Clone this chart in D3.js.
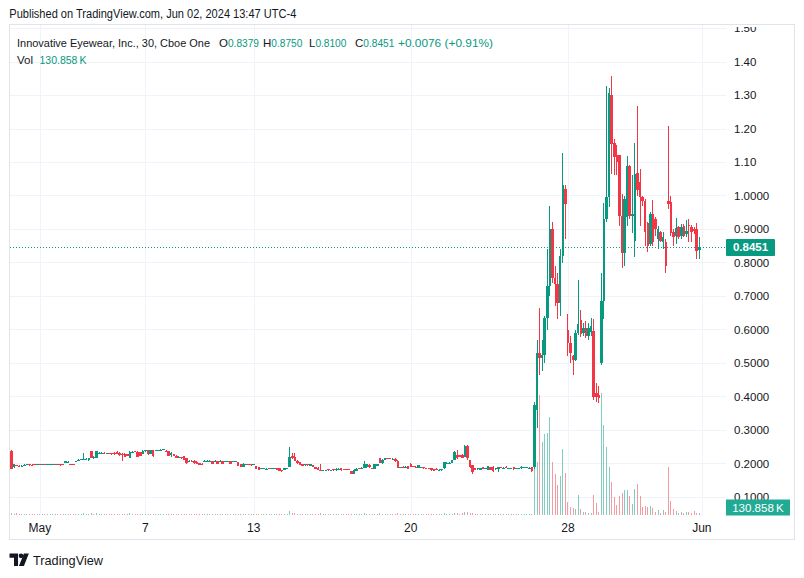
<!DOCTYPE html>
<html><head><meta charset="utf-8">
<script src="https://cdn.jsdelivr.net/npm/d3@7"></script>
<style>
body{margin:0;background:#fff}
svg{display:block}
text{font-family:"Liberation Sans",Arial,sans-serif}
</style></head>
<body><svg id="c" width="804" height="578"></svg>
<script>
// ---------- DATA (30-minute bars, LUCY, Cboe One) ----------
const opens = [
.237,.189,.196,.194,.192,.194,.197,.198,.197,.199,.198,.199,.198,.199,.197,.198,.198,.199,.198,.199,
.198,.202,.204,.199,.198,.205,.209,.211,.212,.211,.209,.237,.215,.216,.229,.231,.232,.229,.231,.230,
.232,.234,.232,.229,.229,.227,.216,.231,.236,.235,.233,.228,.236,.239,.229,.240,.237,.240,.240,.241,
.238,.236,.226,.227,.223,.216,.219,.221,.216,.206,.208,.208,.205,.201,.200,.206,.206,.205,.207,.207,
.207,.207,.207,.206,.207,.207,.206,.205,.204,.198,.191,.198,.199,.199,.198,.193,.190,.185,.184,.183,
.186,.185,.186,.187,.186,.181,.182,.184,.190,.222,.218,.208,.204,.198,.195,.199,.194,.196,.190,.188,
.182,.179,.180,.183,.180,.183,.180,.182,.186,.183,.183,.183,.178,.170,.179,.186,.186,.188,.189,.197,
.186,.184,.193,.215,.201,.210,.216,.216,.213,.214,.208,.188,.191,.189,.192,.200,.192,.191,.187,.188,
.189,.187,.186,.186,.183,.185,.180,.181,.186,.200,.201,.202,.210,.225,.224,.226,.220,.253,.210,.195,
.186,.183,.182,.189,.184,.181,.189,.191,.183,.184,.189,.184,.191,.184,.185,.190,.184,.185,.186,.188,
.187,.187,.189,
.190,.360,.530,.515,.525,.635,.730,.900,.755,.735,.680,.820,1.020,.600,.560,.520,.510,.590,.628,.590,
.605,.580,.593,.595,.410,.405,.500,.685,.930,.995,1.300,1.156,1.120,1.120,.940,.827,.935,1.088,.940,.865,
1.068,1.040,.996,.984,.917,.855,.945,.930,.870,.890,.860,.860,.985,.980,.890,.878,.905,.880,.910,.885,
.912,.905,.900,.900,.8379];
const highs = [
.240,.199,.197,.195,.195,.198,.199,.199,.198,.200,.200,.200,.199,.200,.199,.199,.199,.200,.200,.199,
.199,.208,.206,.200,.199,.208,.212,.214,.231,.215,.216,.238,.222,.238,.233,.233,.233,.232,.232,.232,
.233,.238,.234,.230,.230,.228,.236,.236,.237,.236,.235,.239,.240,.240,.241,.241,.241,.241,.242,.243,
.239,.237,.233,.228,.224,.221,.220,.222,.217,.209,.209,.209,.206,.202,.201,.209,.209,.209,.208,.209,
.208,.209,.208,.208,.208,.208,.207,.207,.205,.199,.201,.200,.200,.200,.199,.194,.191,.187,.187,.186,
.187,.187,.188,.188,.187,.182,.187,.188,.248,.232,.232,.209,.205,.199,.199,.200,.199,.197,.191,.189,
.199,.182,.182,.184,.182,.184,.186,.186,.187,.184,.184,.184,.179,.183,.186,.187,.189,.206,.200,.198,
.187,.200,.200,.216,.212,.216,.217,.217,.215,.215,.209,.190,.192,.192,.193,.201,.193,.192,.197,.190,
.190,.188,.187,.187,.184,.186,.183,.184,.205,.203,.203,.211,.237,.240,.226,.228,.255,.255,.211,.196,
.187,.187,.187,.190,.187,.194,.190,.192,.187,.191,.190,.189,.192,.187,.187,.191,.187,.187,.192,.191,
.190,.189,.190,
.385,.570,.665,.570,.640,.840,.970,.920,.790,.770,.840,1.128,1.030,.645,.580,.525,.600,.748,.658,.620,
.625,.620,.635,.630,.440,.430,.770,.977,1.327,1.320,1.357,1.170,1.150,1.120,1.005,1.000,1.118,1.090,1.061,1.158,
1.267,1.078,1.000,.990,.920,.950,.987,.935,.910,.895,.890,.870,1.207,1.000,.900,.932,.910,.915,.915,.927,
.930,.912,.905,.917,.875];
const lows = [
.183,.187,.192,.191,.191,.193,.196,.194,.194,.197,.197,.197,.197,.198,.196,.197,.197,.198,.197,.194,
.196,.201,.203,.196,.197,.204,.208,.210,.211,.210,.208,.215,.213,.215,.228,.230,.228,.228,.227,.226,
.226,.228,.223,.208,.219,.222,.215,.230,.233,.219,.221,.227,.235,.226,.228,.220,.236,.239,.239,.240,
.235,.222,.219,.222,.215,.215,.214,.210,.200,.205,.205,.200,.199,.196,.198,.205,.205,.204,.199,.206,
.199,.206,.199,.205,.206,.199,.205,.204,.192,.190,.189,.197,.197,.194,.197,.183,.180,.184,.183,.180,
.183,.184,.185,.181,.177,.176,.181,.183,.189,.214,.206,.200,.196,.193,.194,.194,.193,.189,.183,.181,
.177,.178,.179,.179,.179,.179,.179,.181,.179,.181,.181,.181,.169,.169,.178,.184,.185,.187,.188,.188,
.184,.183,.192,.201,.200,.209,.214,.214,.212,.205,.186,.187,.188,.188,.183,.189,.189,.189,.186,.187,
.185,.185,.183,.179,.178,.182,.179,.179,.185,.199,.200,.201,.209,.214,.219,.215,.219,.211,.188,.170,
.181,.182,.181,.184,.183,.180,.181,.175,.182,.176,.187,.183,.187,.183,.184,.182,.183,.184,.185,.187,
.186,.186,.175,
.185,.305,.465,.475,.500,.600,.700,.740,.670,.630,.640,.800,.870,.520,.500,.465,.505,.585,.578,.580,
.575,.570,.580,.390,.385,.380,.495,.630,.920,.965,1.065,1.060,1.060,.910,.785,.790,.910,.930,.888,.815,
1.000,.910,.970,.850,.830,.850,.850,.880,.840,.860,.840,.770,.960,.880,.850,.855,.870,.870,.875,.875,
.860,.862,.885,.810,.810];
const closes = [
.185,.198,.193,.192,.194,.197,.198,.195,.195,.198,.199,.198,.199,.198,.198,.199,.199,.198,.199,.195,
.197,.207,.205,.197,.197,.207,.211,.213,.213,.214,.215,.216,.220,.236,.232,.232,.229,.231,.228,.228,
.227,.229,.224,.226,.220,.223,.235,.235,.234,.220,.222,.238,.239,.227,.240,.222,.239,.240,.241,.242,
.236,.223,.231,.223,.216,.220,.215,.211,.201,.208,.206,.201,.200,.197,.199,.208,.208,.208,.200,.208,
.200,.208,.200,.207,.207,.200,.206,.206,.193,.191,.200,.199,.198,.195,.199,.184,.181,.186,.186,.185,
.184,.186,.187,.182,.178,.177,.186,.186,.218,.216,.208,.201,.197,.194,.198,.195,.198,.190,.184,.182,
.179,.181,.181,.180,.181,.180,.185,.185,.180,.182,.182,.182,.170,.182,.185,.185,.188,.200,.199,.189,
.185,.199,.199,.202,.211,.215,.215,.215,.214,.206,.187,.189,.189,.191,.185,.190,.190,.190,.196,.189,
.186,.186,.184,.180,.179,.183,.182,.183,.204,.202,.202,.210,.235,.215,.220,.216,.253,.215,.190,.176,
.182,.186,.186,.185,.186,.192,.182,.178,.186,.189,.188,.188,.188,.186,.186,.184,.186,.186,.191,.190,
.189,.188,.179,
.375,.530,.515,.525,.635,.730,.900,.755,.735,.680,.820,1.030,.975,.560,.530,.510,.590,.617,.588,.605,
.580,.605,.610,.400,.400,.395,.685,.930,.995,1.305,1.155,1.116,1.100,.940,.827,.990,1.088,.940,.945,1.065,
1.016,.996,.985,.890,.850,.945,.860,.900,.900,.865,.875,.790,.975,.887,.877,.902,.875,.905,.880,.895,
.910,.890,.895,.835,.8451];
const volumesK = [
90,60,130,50,40,60,45,70,55,40, 35,50,40,60,45,50,40,55,35,60, 45,70,50,60,45,65,80,70,120,60,
55,110,70,90,60,50,55,45,60,50, 55,70,60,80,55,50,90,60,50,80, 60,85,70,75,60,80,55,45,40,50,
60,75,70,55,65,50,60,70,80,50, 45,60,55,50,40,55,45,50,60,45, 50,45,55,40,45,60,40,45,70,65,
55,40,45,60,40,75,70,45,40,50, 45,40,50,55,70,60,45,55,230,140, 120,80,70,60,50,55,45,60,70,65,
90,55,40,50,45,50,60,55,60,45, 40,50,85,80,60,45,50,90,75,65, 50,70,60,100,80,70,55,45,50,60,
90,50,45,50,55,80,60,45,70,45, 50,45,55,60,55,50,45,55,110,70, 60,75,130,110,80,90,160,150,120,100,
70,60,55,60,50,70,65,80,50,60, 45,55,50,45,50,60,45,50,70,55, 50,45,80,
3600,3000,6840,4180,4620,4690,5590,3040,2340,1710,2220,3780,2390,760,470,380,320,1140,320,190,
190,130,130,1140,700,190,6970,5130,3890,2720,1900,1040,570,1080,1240,1430,1430,1080,630,1480,
1770,1080,470,510,470,510,380,190,285,130,285,190,2720,800,320,230,130,170,130,170,
170,130,230,130,130.858];

const priceTicks = [0.1,0.2,0.3,0.4,0.5,0.6,0.7,0.8,0.9,1.0,1.1,1.2,1.3,1.4,1.5];
const priceTickLabels = ["0.1000","0.2000","0.3000","0.4000","0.5000","0.6000","0.7000","0.8000","0.9000","1.0000","1.10","1.20","1.30","1.40","1.50"];
const timeTickIndex = [11,52,94,155,216,268];
const timeTickLabels = ["May","7","13","20","28","Jun"];
const lastPrice = 0.8451;
const lastVolLabel = "130.858\u2009K";
const changeLabel = "+0.0076 (+0.91%)";

// ---------- LAYOUT ----------
const W = 804, H = 578;
const frame = {l:9.5, t:24.5, r:794.5, b:539.5};
const pane = {l:10, t:25, r:726, b:515};
const up = "#089981", down = "#f23645";
const volUp = "rgba(8,153,129,0.5)", volDown = "rgba(242,54,69,0.5)";
const txt = "#131722", grid = "#f0f3fa";

const svg = d3.select("#c");
const n = opens.length;
const x = d3.scaleLinear().domain([0, n - 1]).range([11.5, 699.3]);
const y = d3.scaleLinear().domain([0.1, 1.4]).range([497, 61.5]);
const vMax = d3.max(volumesK);
const yv = d3.scaleLinear().domain([0, vMax]).range([pane.b, pane.b - (pane.b - pane.t) * 0.25]);

svg.append("rect").attr("width", W).attr("height", H).attr("fill", "#fff");

function fitText(sel, w) { sel.attr("textLength", w).attr("lengthAdjust", "spacingAndGlyphs"); return sel; }

// header
fitText(svg.append("text").attr("x", 9.3).attr("y", 14).attr("dominant-baseline", "central")
  .attr("font-size", 12).attr("fill", txt)
  .text("Published on TradingView.com, Jun 02, 2024 13:47 UTC-4"), 287);

// frame
svg.append("rect").attr("x", frame.l).attr("y", frame.t)
  .attr("width", frame.r - frame.l).attr("height", frame.b - frame.t)
  .attr("fill", "none").attr("stroke", "#e0e3eb").attr("stroke-width", 1);

const defs = svg.append("defs");
defs.append("clipPath").attr("id", "pc").append("rect")
  .attr("x", pane.l).attr("y", pane.t).attr("width", pane.r - pane.l).attr("height", pane.b - pane.t);
defs.append("clipPath").attr("id", "ac").append("rect")
  .attr("x", pane.r).attr("y", 27).attr("width", frame.r - pane.r).attr("height", pane.b - 27 + 2);

const gGrid = svg.append("g").attr("clip-path", "url(#pc)").attr("shape-rendering", "crispEdges");
gGrid.selectAll("line.h").data(priceTicks).join("line")
  .attr("x1", pane.l).attr("x2", pane.r)
  .attr("y1", d => Math.round(y(d)) + 0.5).attr("y2", d => Math.round(y(d)) + 0.5)
  .attr("stroke", grid);
gGrid.selectAll("line.v").data(timeTickIndex).join("line")
  .attr("y1", pane.t).attr("y2", pane.b)
  .attr("x1", d => Math.round(x(d)) + 0.5).attr("x2", d => Math.round(x(d)) + 0.5)
  .attr("stroke", grid);

const bars = d3.range(n).map(i => ({i, o: opens[i], h: highs[i], l: lows[i], c: closes[i], v: volumesK[i]}));
const bx0 = d => Math.round(x(d.i) - 1.25), bx1 = d => Math.round(x(d.i) + 1.25);

// volume
const gVol = svg.append("g").attr("clip-path", "url(#pc)").attr("shape-rendering", "crispEdges");
gVol.selectAll("rect").data(bars).join("rect")
  .attr("x", d => Math.floor(x(d.i)))
  .attr("width", 1)
  .attr("y", d => Math.min(yv(d.v), pane.b - 1))
  .attr("height", d => Math.max(1, pane.b - yv(d.v)))
  .attr("fill", d => d.c >= d.o ? volUp : volDown);

// candles
const gC = svg.append("g").attr("clip-path", "url(#pc)").attr("shape-rendering", "crispEdges");
gC.selectAll("rect.w").data(bars).join("rect")
  .attr("x", d => Math.floor(x(d.i)))
  .attr("width", 1)
  .attr("y", d => y(d.h))
  .attr("height", d => Math.max(1, y(d.l) - y(d.h)))
  .attr("fill", d => d.c >= d.o ? up : down);
gC.selectAll("rect.b").data(bars).join("rect")
  .attr("x", bx0)
  .attr("width", d => bx1(d) - bx0(d))
  .attr("y", d => y(Math.max(d.o, d.c)))
  .attr("height", d => Math.max(1, Math.abs(y(d.o) - y(d.c))))
  .attr("fill", d => d.c >= d.o ? up : down);

// last price dotted line
svg.append("line").attr("x1", pane.l).attr("x2", pane.r)
  .attr("y1", Math.round(y(lastPrice)) + 0.5).attr("y2", Math.round(y(lastPrice)) + 0.5)
  .attr("stroke", up).attr("stroke-width", 1).attr("stroke-dasharray", "1,2");

// price axis labels
const gA = svg.append("g").attr("clip-path", "url(#ac)");
gA.selectAll("text").data(priceTicks).join("text")
  .attr("x", 734).attr("y", d => y(d)).attr("dominant-baseline", "central")
  .attr("font-size", 11.5).attr("fill", txt)
  .text((d, k) => priceTickLabels[k]);

// last price label
svg.append("rect").attr("x", 726).attr("y", y(lastPrice) - 8.5).attr("width", 49).attr("height", 17)
  .attr("rx", 1).attr("fill", up);
svg.append("text").attr("x", 750.5).attr("y", y(lastPrice)).attr("dominant-baseline", "central")
  .attr("text-anchor", "middle").attr("font-size", 11.5).attr("font-weight", "bold").attr("fill", "#fff")
  .text(lastPrice.toFixed(4));

// volume label
svg.append("rect").attr("x", 726).attr("y", 499.5).attr("width", 64).attr("height", 16)
  .attr("fill", "#22ab94");
svg.append("text").attr("x", 758).attr("y", 507.5).attr("dominant-baseline", "central")
  .attr("text-anchor", "middle").attr("font-size", 11.5).attr("fill", "#fff")
  .text(lastVolLabel);

// time axis labels
svg.append("g").selectAll("text").data(timeTickIndex).join("text")
  .attr("x", d => x(d)).attr("y", 528).attr("dominant-baseline", "central")
  .attr("text-anchor", "middle").attr("font-size", 12).attr("fill", txt)
  .text((d, k) => timeTickLabels[k]);

// legend
const leg = svg.append("g").attr("font-size", 11.5);
fitText(leg.append("text").attr("x", 17).attr("y", 43).attr("dominant-baseline", "central").attr("fill", txt)
  .text("Innovative Eyewear, Inc., 30, Cboe One"), 193);
const ohlc = [["O", opens[n-1].toFixed(4), 219], ["H", highs[n-1].toFixed(4), 263],
              ["L", lows[n-1].toFixed(4), 309], ["C", closes[n-1].toFixed(4), 355]];
ohlc.forEach(([k, v, px]) => {
  const kt = leg.append("text").attr("x", px).attr("y", 43).attr("dominant-baseline", "central")
    .attr("fill", txt).text(k);
  const kw = kt.node().getComputedTextLength();
  fitText(leg.append("text").attr("x", px + kw).attr("y", 43).attr("dominant-baseline", "central")
    .attr("fill", up).text(v), 31);
});
fitText(leg.append("text").attr("x", 398).attr("y", 43).attr("dominant-baseline", "central").attr("fill", up)
  .text(changeLabel), 95);
fitText(leg.append("text").attr("x", 17).attr("y", 60).attr("dominant-baseline", "central").attr("fill", txt).text("Vol"), 16);
fitText(leg.append("text").attr("x", 39.5).attr("y", 60).attr("dominant-baseline", "central").attr("fill", up).text(lastVolLabel), 47);

// TradingView logo
const logo = svg.append("g").attr("transform", "translate(9.5,553.5) scale(0.9)").attr("fill", txt);
logo.append("path").attr("d", "M0 0 H9.5 V14 H5 V4.8 H0 Z");
logo.append("circle").attr("cx", 12.8).attr("cy", 2.6).attr("r", 2.6);
logo.append("path").attr("d", "M16 0 H21.5 L16 14 H10.5 Z");
fitText(svg.append("text").attr("x", 33).attr("y", 560).attr("dominant-baseline", "central")
  .attr("font-size", 13.5).attr("fill", txt).text("TradingView"), 70);
</script></body></html>
